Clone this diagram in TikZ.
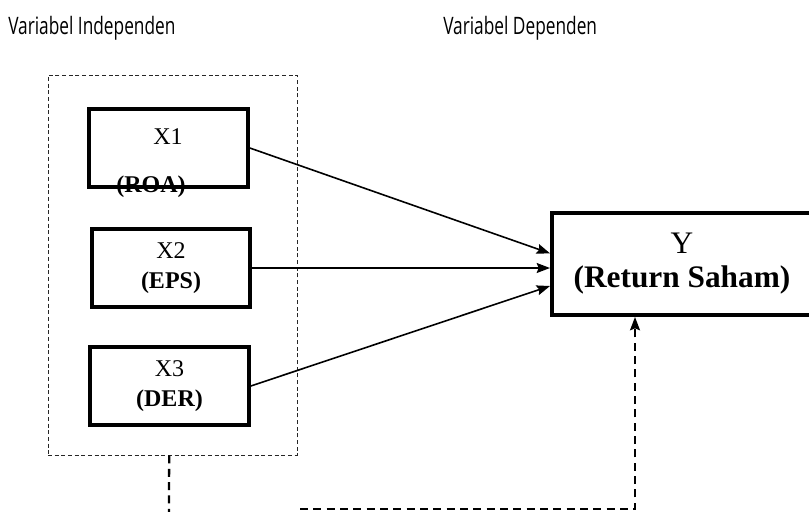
\documentclass[tikz,border=0pt]{standalone}
\usepackage{fontspec}
\setmainfont{Liberation Serif}
\newfontfamily\headfont{Open Sans}
\usetikzlibrary{arrows.meta, positioning}

\newcommand{\headtext}[1]{\scalebox{0.72}[1]{#1}}

\begin{document}
\begin{tikzpicture}[
  x=0.75pt, y=-0.75pt,
  varbox/.style  = {rectangle, draw, line width=3pt, inner sep=0pt,
                    minimum width=119pt, minimum height=59pt, align=center,
                    font=\fontsize{18}{22.5}\selectfont},
  depbox/.style  = {rectangle, draw, line width=3pt, inner sep=0pt,
                    minimum width=195pt, minimum height=76.5pt, align=center,
                    font=\fontsize{23.5}{25.5}\selectfont},
  group/.style   = {rectangle, draw=black!85, line width=0.7pt,
                    dash pattern=on 3pt off 2pt, inner sep=0pt,
                    minimum width=186.75pt, minimum height=285pt},
  head/.style    = {anchor=west, inner sep=0pt, font=\headfont\fontsize{18}{20}\selectfont},
  arrow/.style   = {-{Stealth[length=10pt, width=7.5pt, inset=1.5pt]}, line width=1.2pt},
  link/.style    = {line width=1.7pt, dash pattern=on 6pt off 4pt}
]
\clip (0,0) rectangle (809,511);

% headings
\node[head] (hind) at (8,28)   {\headtext{Variabel Independen}};
\node[head] (hdep) at (443,28) {\headtext{Variabel Dependen}};

% independent variables
\node[group] (grp) at (172.5,265) {};
\node[varbox] (x1) at (168.5,148) {};
\node[font=\fontsize{18}{20}\selectfont] (x1name) at (168,137) {X1};
\node[font=\fontsize{18}{20}\selectfont\bfseries] (x1sub) at (151,187) {(ROA)};
\node[varbox] (x2) at (171,268) {X2\\\textbf{(EPS)}};
\node[varbox] (x3) at (169.5,386) {X3\\\textbf{(DER)}};

% dependent variable
\node[depbox] (y) at (682,264) {Y\\\textbf{(Return Saham)}};

\draw[arrow] (x1.east) -- ([yshift=8pt]y.west);
\draw[arrow] (x2.east) -- (x2.east -| y.west);
\draw[arrow] (x3.east) -- ([yshift=-16.5pt]y.west);

% simultaneous effect
\coordinate (down) at (169,515);
\coordinate (tail) at (300,509);
\coordinate (turn) at (635,509);
\draw[link] ([xshift=-2.5pt]grp.south) -- (down);
\draw[link, arrow] (tail) -- (turn) -- (turn |- y.south);

\end{tikzpicture}
\end{document}
